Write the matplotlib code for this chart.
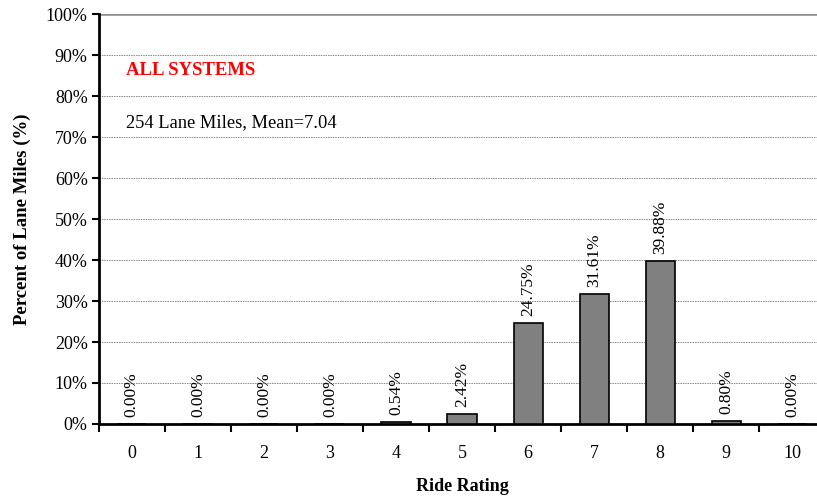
import numpy as np
import matplotlib.pyplot as plt
from matplotlib.ticker import FixedLocator, PercentFormatter

ratings = [0, 1, 2, 3, 4, 5, 6, 7, 8, 9, 10]
percents = [0.00, 0.00, 0.00, 0.00, 0.54, 2.42, 24.75, 31.61, 39.88, 0.80, 0.00]
subtitle = "ALL SYSTEMS"
summary = "254 Lane Miles, Mean=7.04"

plt.rcParams['font.family'] = ['Liberation Serif', 'DejaVu Serif']

fig = plt.figure(figsize=(8.17, 5.01), dpi=100)
ax = fig.add_axes([0.121, 0.1537, 0.889, 0.8183])

x = np.arange(len(ratings))
ax.bar(x, percents, width=0.44, color='#808080', edgecolor='black', linewidth=1.2, zorder=3)

for xi, p in zip(x, percents):
    ax.annotate(f"{p:.2f}%", (xi, p), xytext=(0, 5), textcoords='offset points',
                rotation=90, ha='center', va='bottom', fontsize=12.5, zorder=4)

ax.set_xlim(-0.5, len(ratings) - 0.5)
ax.set_ylim(0, 100)
ax.set_yticks(np.arange(0, 101, 10))
ax.yaxis.set_major_formatter(PercentFormatter(decimals=0))
ax.yaxis.grid(True, color='#888888', linestyle=(0, (1.5, 1)), linewidth=0.7, zorder=0)
ax.axhline(100, color='#999999', linewidth=2, zorder=1)

# ticks at category edges, labels at category centres
ax.xaxis.set_major_locator(FixedLocator(np.arange(-0.5, len(ratings), 1.0)))
ax.xaxis.set_major_formatter(plt.NullFormatter())
ax.xaxis.set_minor_locator(FixedLocator(x))
ax.set_xticklabels([str(r) for r in ratings], minor=True)
ax.tick_params(axis='x', which='major', length=6, width=1.5, direction='out')
ax.tick_params(axis='x', which='minor', length=0, pad=15, labelsize=13)
ax.tick_params(axis='y', length=5, width=1.5, labelsize=13, pad=3)

for side in ['top', 'right']:
    ax.spines[side].set_visible(False)
ax.spines['left'].set_linewidth(2)
ax.spines['bottom'].set_linewidth(2)

ax.set_xlabel('Ride Rating', fontsize=13, fontweight='bold', labelpad=12)
ax.set_ylabel('Percent of Lane Miles (%)', fontsize=13.5, fontweight='bold', labelpad=11)

ax.text(0.038, 0.862, subtitle, transform=ax.transAxes, color='red', fontsize=13.5,
        fontweight='bold', va='center', ha='left')
ax.text(0.038, 0.735, summary, transform=ax.transAxes, color='black', fontsize=13.3,
        va='center', ha='left')

fig.savefig('out.png', dpi=100)
